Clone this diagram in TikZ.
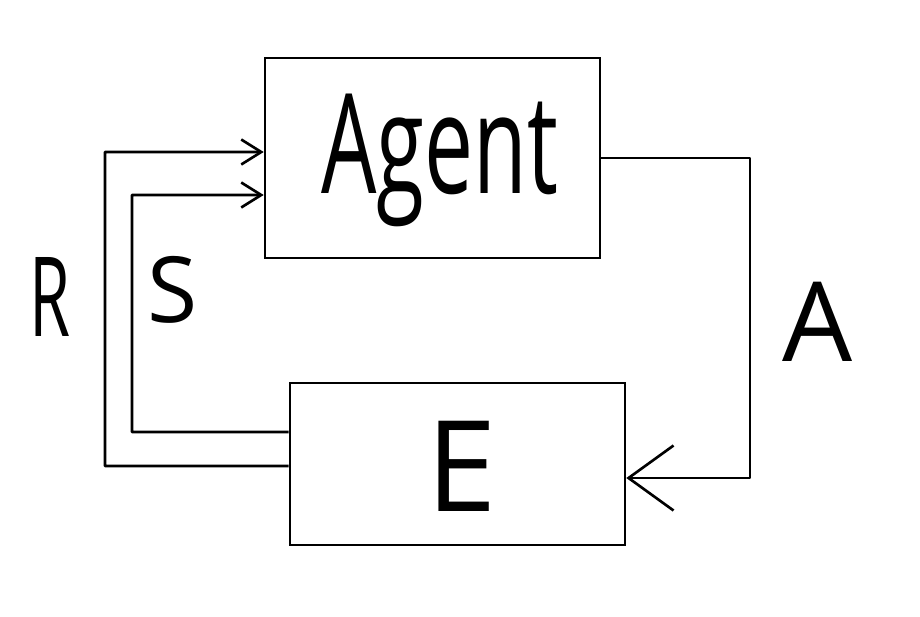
\documentclass[tikz,border=0pt]{standalone}
\usepackage{fontspec}
\setmainfont{Open Sans}
\usetikzlibrary{arrows.meta}
\begin{document}
\begin{tikzpicture}[x=0.02cm,y=-0.02cm,
  box/.style={draw,line width=1.5pt,inner sep=0pt},
  conn/.style={line width=1.5pt,line join=round},
  arr/.style={conn,-{Straight Barb[length=0.4cm,width=0.5cm,line width=1.5pt]}},
  bigarr/.style={conn,-{Straight Barb[length=0.9cm,width=1.3cm,line width=1.5pt]}},
  lbl/.style={inner sep=0pt}]
\fill[white] (0,0) rectangle (920,616);
\useasboundingbox (0,0) rectangle (920,616);
\node[box,minimum width=6.7cm,minimum height=4cm] (agent) at (432.5,158) {};
\node[lbl] (agenttxt) at (440,160) {\scalebox{0.63}[1]{\fontsize{79}{80}\selectfont Agent}};
\node[box,minimum width=6.7cm,minimum height=3.24cm] (env) at (457.5,464) {};
\node[lbl] (etxt) at (462,466) {\fontsize{72}{74}\selectfont E};
\coordinate (ac1) at (750,158);
\coordinate (rc1) at (105,152);
\coordinate (sc1) at (132,195);
\draw[bigarr] (agent.east) -- (ac1) |- ([yshift=-0.28cm]env.east);
\draw[arr] ([yshift=-0.04cm]env.west) -| (rc1) -- ([yshift=0.12cm]agent.west);
\draw[arr] ([yshift=0.64cm]env.west) -| (sc1) -- ([yshift=-0.74cm]agent.west);
\node[lbl] (rlbl) at (50,297) {\scalebox{0.6}[1]{\fontsize{63}{64}\selectfont R}};
\node[lbl] (slbl) at (173,290) {\fontsize{52}{54}\selectfont S};
\node[lbl] (albl) at (818,322) {\fontsize{63}{64}\selectfont A};
\end{tikzpicture}
\end{document}
